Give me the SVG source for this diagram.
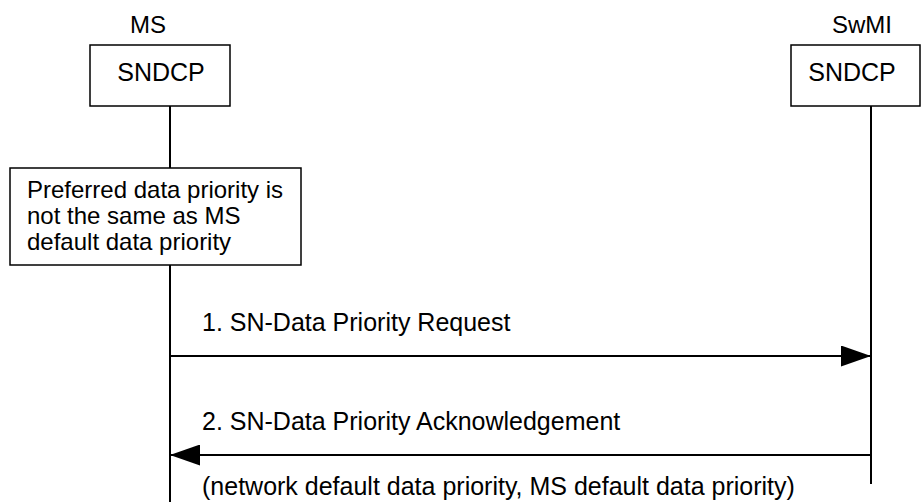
<svg xmlns="http://www.w3.org/2000/svg" width="921" height="502" viewBox="0 0 921 502">
<style>
text{font-family:"Liberation Sans",Arial,sans-serif;font-size:24px;fill:#000}
.big{font-size:25px}
.box{fill:#fff;stroke:#000;stroke-width:1.5}
.life{stroke:#000;stroke-width:2;fill:none}
.msg{stroke:#000;stroke-width:2;fill:none}
</style>
<defs>
<marker id="ah" viewBox="0 0 30 21" refX="30" refY="10.5" markerWidth="30" markerHeight="21" markerUnits="userSpaceOnUse" orient="auto">
<path d="M0,0 L30,10.5 L0,21 Z" fill="#000"/>
</marker>
</defs>
<g id="lifelines">
<line class="life" x1="170" y1="106" x2="170" y2="168"/>
<line class="life" x1="170" y1="265" x2="170" y2="502"/>
<line class="life" x1="871" y1="106" x2="871" y2="484"/>
</g>
<g id="ms">
<text x="148" y="33" text-anchor="middle">MS</text>
<rect class="box" x="90" y="45" width="140" height="61"/>
<text class="big" x="161" y="81" text-anchor="middle">SNDCP</text>
</g>
<g id="swmi">
<text x="862" y="33" text-anchor="middle">SwMI</text>
<rect class="box" x="791" y="45" width="129" height="61"/>
<text class="big" x="852" y="81" text-anchor="middle">SNDCP</text>
</g>
<g id="note">
<rect class="box" x="10" y="168" width="291" height="97"/>
<text x="27" y="198">Preferred data priority is</text>
<text x="27" y="224">not the same as MS</text>
<text x="27" y="250">default data priority</text>
</g>
<g id="connectors">
<line class="msg" x1="170" y1="356" x2="871" y2="356" marker-end="url(#ah)"/>
<line class="msg" x1="871" y1="455" x2="170" y2="455" marker-end="url(#ah)"/>
</g>
<g id="labels">
<text class="big" x="202" y="331">1. SN-Data Priority Request</text>
<text class="big" x="202" y="430">2. SN-Data Priority Acknowledgement</text>
<text class="big" x="202" y="495">(network default data priority, MS default data priority)</text>
</g>
</svg>
